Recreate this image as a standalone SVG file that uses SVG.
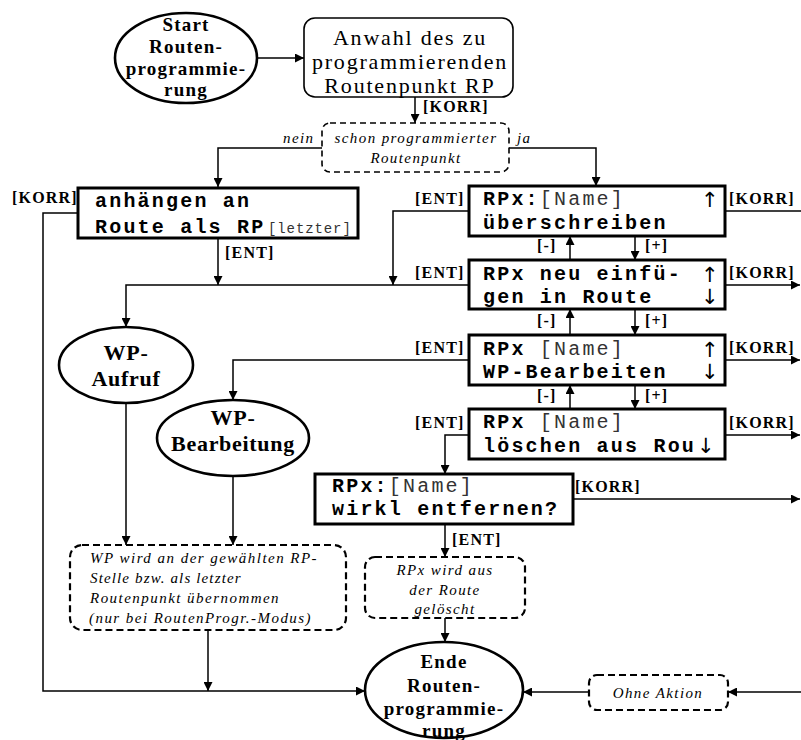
<svg xmlns="http://www.w3.org/2000/svg" width="801" height="740" viewBox="0 0 801 740">
<style>
.bg{fill:#fff}
.ell{fill:#fff;stroke:#000;stroke-width:2.6}
.box{fill:#fff;stroke:#000;stroke-width:1.6}
.lcd{fill:#fff;stroke:#000;stroke-width:3}
.dash{fill:#fff;stroke:#000;stroke-width:1.6;stroke-dasharray:6 4}
.dash2{fill:#fff;stroke:#000;stroke-width:2.2;stroke-dasharray:7 4}
.con{fill:none;stroke:#000;stroke-width:1.5}
.eb{font-family:"Liberation Serif",serif;font-weight:bold;font-size:19px;letter-spacing:1.2px;text-anchor:middle}
.eb2{font-family:"Liberation Serif",serif;font-weight:bold;font-size:22px;letter-spacing:0.7px;text-anchor:middle}
.an{font-family:"Liberation Serif",serif;font-size:22px;letter-spacing:1.8px;text-anchor:middle}
.it{font-family:"Liberation Serif",serif;font-style:italic;font-size:15px;letter-spacing:1.4px}
.itc{font-family:"Liberation Serif",serif;font-style:italic;font-size:15px;letter-spacing:1.4px;text-anchor:middle}
.lb{font-family:"Liberation Serif",serif;font-weight:bold;font-size:16px;letter-spacing:1.2px}
.mono{font-family:"Liberation Mono","Courier New",monospace;font-weight:bold;font-size:20px;letter-spacing:2.2px}
.mr{font-weight:normal;fill:#333}
.small{font-family:"Liberation Mono","Courier New",monospace;font-weight:normal;font-size:14px;letter-spacing:0.9px;fill:#333}
.arr{font-family:"DejaVu Sans",sans-serif;font-size:21px}
</style>
<defs>
<marker id="ah" viewBox="0 0 10 10" refX="10" refY="5" markerWidth="9" markerHeight="9" orient="auto" markerUnits="userSpaceOnUse"><path d="M0,0 L10,5 L0,10 z"/></marker>
</defs>
<rect class="bg" x="0" y="0" width="801" height="740"/>

<g id="connectors">
<path class="con" d="M257,58 H304" marker-end="url(#ah)"/>
<path class="con" d="M415,97 V123" marker-end="url(#ah)"/>
<path class="con" d="M322,148 H218 V187" marker-end="url(#ah)"/>
<path class="con" d="M509,148 H596 V186" marker-end="url(#ah)"/>
<path class="con" d="M218,238 V285" marker-end="url(#ah)"/>
<path class="con" d="M469,211 H393 V285" marker-end="url(#ah)"/>
<path class="con" d="M469,285 H126 V327" marker-end="url(#ah)"/>
<path class="con" d="M469,360 H233 V400" marker-end="url(#ah)"/>
<path class="con" d="M469,435 H445 V474" marker-end="url(#ah)"/>
<path class="con" d="M445,524 V557" marker-end="url(#ah)"/>
<path class="con" d="M445,618 V642" marker-end="url(#ah)"/>
<path class="con" d="M589,692 H523" marker-end="url(#ah)"/>
<path class="con" d="M801,692 H728" marker-end="url(#ah)"/>
<path class="con" d="M725,211 H801"/>
<path class="con" d="M725,285 H800" marker-end="url(#ah)"/>
<path class="con" d="M725,360 H800" marker-end="url(#ah)"/>
<path class="con" d="M725,435 H800" marker-end="url(#ah)"/>
<path class="con" d="M573,499 H800" marker-end="url(#ah)"/>
<path class="con" d="M78,213 H43 V691 H365" marker-end="url(#ah)"/>
<path class="con" d="M208,630 V691" marker-end="url(#ah)"/>
<path class="con" d="M126,403 V545" marker-end="url(#ah)"/>
<path class="con" d="M233,476 V545" marker-end="url(#ah)"/>
<path class="con" d="M570,260 V236" marker-end="url(#ah)"/>
<path class="con" d="M570,335 V309" marker-end="url(#ah)"/>
<path class="con" d="M570,409 V385" marker-end="url(#ah)"/>
<path class="con" d="M635,236 V260" marker-end="url(#ah)"/>
<path class="con" d="M635,309 V335" marker-end="url(#ah)"/>
<path class="con" d="M635,385 V409" marker-end="url(#ah)"/>
<text class="lb" x="423" y="112">[KORR]</text>
<text class="it" x="283" y="143">nein</text>
<text class="it" x="517" y="143">ja</text>
<text class="lb" x="12" y="203">[KORR]</text>
<text class="lb" x="225" y="258">[ENT]</text>
<text class="lb" x="415" y="204">[ENT]</text>
<text class="lb" x="415" y="278">[ENT]</text>
<text class="lb" x="415" y="353">[ENT]</text>
<text class="lb" x="415" y="428">[ENT]</text>
<text class="lb" x="729" y="204">[KORR]</text>
<text class="lb" x="729" y="278">[KORR]</text>
<text class="lb" x="729" y="353">[KORR]</text>
<text class="lb" x="729" y="428">[KORR]</text>
<text class="lb" x="537" y="251">[-]</text>
<text class="lb" x="645" y="251">[+]</text>
<text class="lb" x="537" y="326">[-]</text>
<text class="lb" x="645" y="326">[+]</text>
<text class="lb" x="537" y="401">[-]</text>
<text class="lb" x="645" y="401">[+]</text>
<text class="lb" x="575" y="492">[KORR]</text>
<text class="lb" x="452" y="545">[ENT]</text>
</g>

<g id="start">
<ellipse class="ell" cx="186" cy="58" rx="71" ry="45"/>
<text class="eb" x="186" y="31">Start</text>
<text class="eb" x="186" y="53">Routen-</text>
<text class="eb" x="186" y="75">programmie-</text>
<text class="eb" x="186" y="96">rung</text>
</g>

<g id="anwahl">
<rect class="box" x="304" y="18" width="209" height="79" rx="11"/>
<text class="an" x="410" y="45">Anwahl des zu</text>
<text class="an" x="410" y="69">programmierenden</text>
<text class="an" x="410" y="93">Routenpunkt RP</text>
</g>

<g id="schon">
<rect class="dash" x="322" y="123" width="187" height="49" rx="8"/>
<text class="itc" x="416" y="143">schon programmierter</text>
<text class="itc" x="416" y="163">Routenpunkt</text>
</g>

<g id="anhaengen">
<rect class="lcd" x="78" y="188" width="280" height="50"/>
<text class="mono" x="95" y="207">anhängen an</text>
<text class="mono" x="95" y="233">Route als RP<tspan class="small" x="268">[letzter]</tspan></text>
</g>

<g id="ueberschreiben">
<rect class="lcd" x="469" y="186" width="256" height="50"/>
<text class="mono" x="483" y="205">RPx:<tspan class="mr">[Name]</tspan></text>
<text class="mono" x="483" y="229">überschreiben</text>
<text class="arr" x="701" y="207">↑</text>
</g>

<g id="einfuegen">
<rect class="lcd" x="469" y="260" width="256" height="49"/>
<text class="mono" x="483" y="280">RPx neu einfü-</text>
<text class="mono" x="483" y="303">gen in Route</text>
<text class="arr" x="701" y="282">↑</text>
<text class="arr" x="701" y="304">↓</text>
</g>

<g id="bearbeiten">
<rect class="lcd" x="469" y="335" width="256" height="50"/>
<text class="mono" x="483" y="355">RPx <tspan class="mr">[Name]</tspan></text>
<text class="mono" x="483" y="378">WP-Bearbeiten</text>
<text class="arr" x="701" y="357">↑</text>
<text class="arr" x="701" y="379">↓</text>
</g>

<g id="loeschen">
<rect class="lcd" x="469" y="409" width="256" height="50"/>
<text class="mono" x="483" y="428">RPx <tspan class="mr">[Name]</tspan></text>
<text class="mono" x="483" y="452">löschen aus Rou</text>
<text class="arr" x="697" y="453">↓</text>
</g>

<g id="wp-aufruf">
<ellipse class="ell" cx="126" cy="365" rx="67" ry="38"/>
<text class="eb2" x="126" y="360">WP-</text>
<text class="eb2" x="126" y="386">Aufruf</text>
</g>

<g id="wp-bearbeitung">
<ellipse class="ell" cx="233" cy="438" rx="76" ry="38"/>
<text class="eb2" x="233" y="425">WP-</text>
<text class="eb2" x="233" y="451">Bearbeitung</text>
</g>

<g id="entfernen">
<rect class="lcd" x="315" y="474" width="258" height="50"/>
<text class="mono" x="332" y="492">RPx:<tspan class="mr">[Name]</tspan></text>
<text class="mono" x="332" y="515">wirkl entfernen?</text>
</g>

<g id="wp-uebernommen">
<rect class="dash2" x="70" y="545" width="276" height="85" rx="12"/>
<text class="it" x="90" y="563" textLength="228">WP wird an der gewählten  RP-</text>
<text class="it" x="90" y="583" textLength="152">Stelle bzw. als letzter</text>
<text class="it" x="90" y="603" textLength="190">Routenpunkt übernommen</text>
<text class="it" x="89" y="623" textLength="223">(nur bei RoutenProgr.-Modus)</text>
</g>

<g id="geloescht">
<rect class="dash2" x="365" y="557" width="160" height="61" rx="10"/>
<text class="itc" x="445" y="575">RPx  wird aus</text>
<text class="itc" x="445" y="595">der Route</text>
<text class="itc" x="445" y="614">gelöscht</text>
</g>

<g id="ohne-aktion">
<rect class="dash2" x="589" y="675" width="139" height="35" rx="8"/>
<text class="itc" x="658" y="698">Ohne Aktion</text>
</g>

<g id="ende">
<ellipse class="ell" cx="444" cy="690" rx="79" ry="48"/>
<text class="eb" x="444" y="668">Ende</text>
<text class="eb" x="444" y="692">Routen-</text>
<text class="eb" x="444" y="715">programmie-</text>
<text class="eb" x="444" y="737">rung</text>
</g>
</svg>
